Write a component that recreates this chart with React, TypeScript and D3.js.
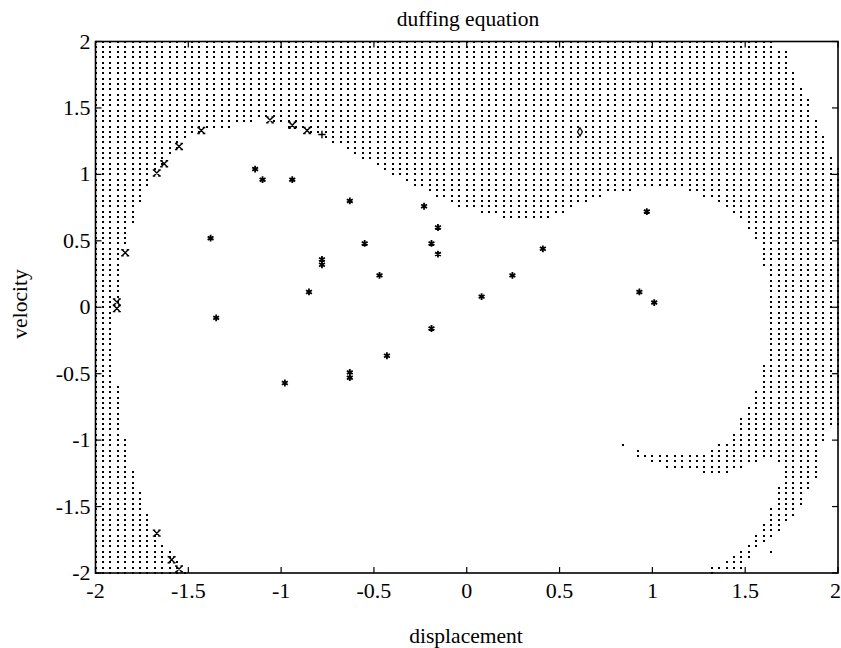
import * as d3 from 'd3';

// tick values on both axes
const xTicks = [-2, -1.5, -1, -0.5, 0, 0.5, 1, 1.5, 2];
const yTicks = [-2, -1.5, -1, -0.5, 0, 0.5, 1, 1.5, 2];

// outline of the dotted basin (displacement, velocity)
const basinBoundary: [number, number][] = [
  [-2.02, 2.02], [1.66, 2.02], [1.66, 1.94], [1.74, 1.94], [1.74, 1.8], [1.78, 1.74],
  [1.82, 1.62], [1.86, 1.5], [1.9, 1.36], [1.94, 1.22], [1.98, 1.1], [2.02, 1.0],
  [2.02, -0.9], [1.94, -0.9], [1.94, -1.02], [1.9, -1.02], [1.9, -1.3], [1.86, -1.3],
  [1.86, -1.38], [1.82, -1.38], [1.82, -1.5], [1.78, -1.5], [1.78, -1.58], [1.74, -1.58],
  [1.74, -1.62], [1.7, -1.62], [1.7, -1.7], [1.66, -1.7], [1.66, -1.74], [1.62, -1.74],
  [1.62, -1.78], [1.58, -1.78], [1.58, -1.82], [1.54, -1.82], [1.54, -1.9], [1.5, -1.9],
  [1.5, -1.97], [1.34, -1.97], [1.34, -2.02], [1.3, -2.02], [1.3, -1.94], [1.38, -1.94],
  [1.38, -1.9], [1.42, -1.9], [1.42, -1.86], [1.46, -1.86], [1.46, -1.82], [1.5, -1.82],
  [1.5, -1.78], [1.54, -1.78], [1.54, -1.7], [1.58, -1.7], [1.58, -1.62], [1.62, -1.62],
  [1.62, -1.5], [1.66, -1.5], [1.66, -1.34], [1.7, -1.34], [1.7, -1.18], [1.66, -1.18],
  [1.66, -1.14], [1.58, -1.14], [1.58, -1.18], [1.5, -1.18], [1.5, -1.22], [1.42, -1.22],
  [1.42, -1.26], [1.26, -1.26], [1.26, -1.22], [1.06, -1.22], [1.06, -1.18], [0.98, -1.18],
  [0.98, -1.14], [0.9, -1.14], [0.9, -1.06], [0.94, -1.06], [0.94, -1.1], [1.3, -1.1],
  [1.3, -1.06], [1.34, -1.06], [1.34, -1.02], [1.42, -1.02], [1.42, -0.94], [1.46, -0.94],
  [1.46, -0.82], [1.5, -0.82], [1.54, -0.7], [1.58, -0.54], [1.62, -0.3], [1.62, 0.1],
  [1.6, 0.3], [1.56, 0.5], [1.52, 0.58], [1.46, 0.68], [1.38, 0.76], [1.3, 0.82],
  [1.18, 0.88], [1.0, 0.9], [0.8, 0.86], [0.68, 0.82], [0.58, 0.76], [0.46, 0.68],
  [0.2, 0.68], [0.06, 0.72], [-0.06, 0.76], [-0.14, 0.82], [-0.26, 0.9], [-0.32, 0.94],
  [-0.4, 1.0], [-0.48, 1.06], [-0.56, 1.12], [-0.63, 1.18], [-0.71, 1.22], [-0.79, 1.28],
  [-0.86, 1.32], [-0.99, 1.37], [-1.1, 1.42], [-1.26, 1.36], [-1.39, 1.33], [-1.46, 1.3],
  [-1.5, 1.3], [-1.5, 1.26], [-1.54, 1.26], [-1.54, 1.18], [-1.58, 1.18], [-1.58, 1.14],
  [-1.62, 1.14], [-1.62, 1.06], [-1.66, 1.06], [-1.66, 1.02], [-1.7, 1.02], [-1.7, 0.9],
  [-1.74, 0.9], [-1.74, 0.78], [-1.78, 0.78], [-1.78, 0.62], [-1.82, 0.62], [-1.82, 0.46],
  [-1.86, 0.46], [-1.86, 0.02], [-1.9, 0.02], [-1.9, -0.58], [-1.86, -0.58], [-1.86, -0.98],
  [-1.82, -0.98], [-1.82, -1.22], [-1.78, -1.22], [-1.78, -1.38], [-1.74, -1.38], [-1.74, -1.54],
  [-1.7, -1.54], [-1.7, -1.7], [-1.66, -1.7], [-1.66, -1.78], [-1.62, -1.78], [-1.62, -1.82],
  [-1.58, -1.82], [-1.58, -1.9], [-1.54, -1.9], [-1.54, -1.98], [-1.5, -1.98], [-1.5, -2.02],
  [-2.02, -2.02],
];

// single basin points outside the outline
const strayDots: [number, number][] = [[0.84, -1.04], [1.64, -1.84]];

// trajectory end points
const starPoints: [number, number][] = [
  [-1.14, 1.04], [-1.1, 0.96], [-0.94, 0.96], [-0.63, 0.8], [-1.38, 0.52], [-0.55, 0.48],
  [-0.78, 0.36], [-0.78, 0.32], [-0.47, 0.24], [-0.85, 0.115], [-1.35, -0.08], [-0.23, 0.76],
  [-0.155, 0.6], [-0.19, 0.48], [-0.155, 0.4], [0.41, 0.44], [0.246, 0.24], [0.08, 0.08],
  [0.97, 0.72], [0.93, 0.115], [1.01, 0.035], [-0.19, -0.16], [-0.98, -0.57], [-0.63, -0.49],
  [-0.63, -0.53], [-0.43, -0.365],
];
const crossPoints: [number, number][] = [
  [-1.885, 0.04], [-1.885, -0.01], [-1.84, 0.41], [-1.67, 1.01], [-1.63, 1.08], [-1.55, 1.21],
  [-1.43, 1.33], [-1.06, 1.41], [-0.94, 1.37], [-0.86, 1.33], [-1.67, -1.7], [-1.59, -1.9],
  [-1.55, -1.97],
];
const plusPoints: [number, number][] = [[-0.78, 1.3]];
const diamondPoints: [number, number][] = [[0.61, 1.32]];

const gridStep = 0.04;
const font = '"Liberation Serif", "Times New Roman", serif';

export default function App() {
  const left = 95.5, right = 838, top = 41.5, bottom = 573;
  const x = d3.scaleLinear().domain([-2, 2]).range([left, right]);
  const y = d3.scaleLinear().domain([-2, 2]).range([bottom, top]);

  // sample lattice of the basin computation
  const lattice = d3.range(101).map((i) => -2 + i * gridStep);
  const dots: [number, number][] = [];
  lattice.forEach((gx) =>
    lattice.forEach((gy) => {
      if (d3.polygonContains(basinBoundary, [gx, gy])) dots.push([gx, gy]);
    })
  );
  strayDots.forEach((d) => dots.push(d));
  const dotPath = dots
    .map(([gx, gy]) => `M${Math.round(x(gx) - 1)},${Math.round(y(gy) - 1)}h2v2h-2z`)
    .join('');

  const star = d3.symbol(d3.symbolAsterisk, 32)()!;
  const plus = d3.symbol(d3.symbolPlus, 20)()!;
  const diamond = d3.symbol(d3.symbolDiamond, 20)()!;
  const cross = 'M-3,-3L3,3M3,-3L-3,3M-4,-3H-1.5M1.5,-3H4M-4,3H-1.5M1.5,3H4';

  const tick = 6;

  return (
    <svg width={841} height={648} style={{ position: 'absolute', left: 0, top: 0, background: '#fff' }}>
      <rect width={841} height={648} fill="#fff" />
      <path d={dotPath} fill="#000" shapeRendering="crispEdges" />

      {starPoints.map(([px, py], i) => (
        <path key={'s' + i} d={star} transform={`translate(${x(px)},${y(py)})`}
          fill="none" stroke="#000" strokeWidth={1.8} />
      ))}
      {crossPoints.map(([px, py], i) => (
        <path key={'x' + i} d={cross} transform={`translate(${x(px)},${y(py)})`}
          fill="none" stroke="#000" strokeWidth={1.4} />
      ))}
      {plusPoints.map(([px, py], i) => (
        <path key={'p' + i} d={plus} transform={`translate(${x(px)},${y(py)})`}
          fill="none" stroke="#000" strokeWidth={1.4} />
      ))}
      {diamondPoints.map(([px, py], i) => (
        <path key={'d' + i} d={diamond} transform={`translate(${x(px)},${y(py)})`}
          fill="#fff" stroke="#000" strokeWidth={1.2} />
      ))}

      {/* box and inward ticks */}
      <rect x={left} y={top} width={right - left} height={bottom - top} fill="none" stroke="#000" strokeWidth={1.6} />
      {xTicks.map((t, i) => (
        <g key={'xt' + t}>
          <line x1={x(t)} x2={x(t)} y1={bottom} y2={bottom - tick} stroke="#000" strokeWidth={1.2} />
          <line x1={x(t)} x2={x(t)} y1={top} y2={top + tick} stroke="#000" strokeWidth={1.2} />
          <text x={i === xTicks.length - 1 ? 841 : x(t)} y={598}
            textAnchor={i === xTicks.length - 1 ? 'end' : 'middle'} fontFamily={font} fontSize={22}>{t}</text>
        </g>
      ))}
      {yTicks.map((t) => (
        <g key={'yt' + t}>
          <line x1={left} x2={left + tick} y1={y(t)} y2={y(t)} stroke="#000" strokeWidth={1.2} />
          <line x1={right} x2={right - tick} y1={y(t)} y2={y(t)} stroke="#000" strokeWidth={1.2} />
          <text x={90.5} y={y(t) + 7} textAnchor="end" fontFamily={font} fontSize={22}>{t}</text>
        </g>
      ))}

      <text x={468} y={26} textAnchor="middle" fontFamily={font} fontSize={21.5}>duffing equation</text>
      <text x={466} y={643} textAnchor="middle" fontFamily={font} fontSize={21.5}>displacement</text>
      <text transform="translate(27,304) rotate(-90)" textAnchor="middle" fontFamily={font} fontSize={21.5}>velocity</text>
    </svg>
  );
}
